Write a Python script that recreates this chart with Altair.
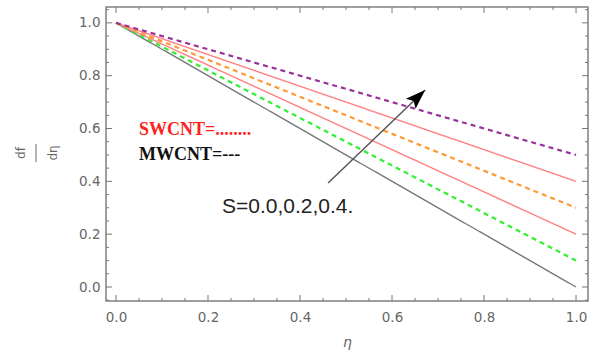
import altair as alt
import pandas as pd

# series: eta positions and df/deta values
eta = [0.0, 0.5, 1.0]
series_names = ["gray", "green", "red1", "orange", "red2", "purple"]
series_vals = {
    "gray":   [1.0, 0.50, 0.0],
    "green":  [1.0, 0.55, 0.1],
    "red1":   [1.0, 0.60, 0.2],
    "orange": [1.0, 0.65, 0.3],
    "red2":   [1.0, 0.70, 0.4],
    "purple": [1.0, 0.75, 0.5],
}
series_colors = ["#777777", "#33ee33", "#ff8080", "#ff9933", "#ff8080", "#993399"]
series_dash = ["solid", "dash", "solid", "dash", "solid", "dash"]

x_major = [0.0, 0.2, 0.4, 0.6, 0.8, 1.0]
x_minor = [0.05, 0.1, 0.15, 0.25, 0.3, 0.35, 0.45, 0.5, 0.55, 0.65, 0.7, 0.75, 0.85, 0.9, 0.95]
y_major = [0.0, 0.2, 0.4, 0.6, 0.8, 1.0]
y_minor = [-0.05, 0.05, 0.1, 0.15, 0.25, 0.3, 0.35, 0.45, 0.5, 0.55, 0.65, 0.7, 0.75, 0.85, 0.9, 0.95, 1.05]

arrow_x = [0.461, 0.672]
arrow_y = [0.394, 0.746]

rows = []
for n, c, d in zip(series_names, series_colors, series_dash):
    for e, v in zip(eta, series_vals[n]):
        rows.append({"eta": e, "val": v, "series": n, "dash": d})
df = pd.DataFrame(rows)

W, H = 482, 294
xs = alt.Scale(domain=[-0.0217, 1.026], nice=False, zero=False)
ys = alt.Scale(domain=[-0.053, 1.06], nice=False, zero=False)
GRAY = "#666666"

lines = alt.Chart(df).mark_line(clip=True).encode(
    x=alt.X("eta:Q", scale=xs, axis=alt.Axis(values=x_major, format=".1f", ticks=False, domain=False,
                                            grid=False, labelFont="DejaVu Sans", labelFontSize=13.5,
                                            labelColor=GRAY, labelPadding=9, title="η",
                                            titleFontStyle="italic", titleFont="DejaVu Sans",
                                            titleFontSize=14, titleFontWeight="normal",
                                            titleColor=GRAY, titlePadding=12)),
    y=alt.Y("val:Q", scale=ys, axis=alt.Axis(values=y_major, format=".1f", ticks=False, domain=False,
                                            grid=False, labelFont="DejaVu Sans", labelFontSize=13.5,
                                            labelColor=GRAY, labelPadding=6, title=None)),
    color=alt.Color("series:N", scale=alt.Scale(domain=series_names, range=series_colors), legend=None),
    strokeDash=alt.StrokeDash("dash:N", scale=alt.Scale(domain=["solid", "dash"], range=[[1, 0], [5, 4]]),
                              legend=None),
    strokeWidth=alt.StrokeWidth("dash:N", scale=alt.Scale(domain=["solid", "dash"], range=[1.4, 2.2]),
                                legend=None),
    detail="series:N",
)

def ticks_x(vals, length):
    d = pd.DataFrame({"t": vals})
    bottom = alt.Chart(d).mark_rule(color="#777", strokeWidth=1).encode(
        x=alt.X("t:Q", scale=xs), y=alt.value(H), y2=alt.value(H - length))
    top = alt.Chart(d).mark_rule(color="#777", strokeWidth=1).encode(
        x=alt.X("t:Q", scale=xs), y=alt.value(0), y2=alt.value(length))
    return bottom + top

def ticks_y(vals, length):
    d = pd.DataFrame({"t": vals})
    left = alt.Chart(d).mark_rule(color="#777", strokeWidth=1).encode(
        y=alt.Y("t:Q", scale=ys), x=alt.value(0), x2=alt.value(length))
    right = alt.Chart(d).mark_rule(color="#777", strokeWidth=1).encode(
        y=alt.Y("t:Q", scale=ys), x=alt.value(W), x2=alt.value(W - length))
    return left + right

adf = pd.DataFrame({"x": [arrow_x[0]], "y": [arrow_y[0]], "x2": [arrow_x[1]], "y2": [arrow_y[1]]})
arrow_line = alt.Chart(adf).mark_rule(color="#555555", strokeWidth=1.5).encode(
    x=alt.X("x:Q", scale=xs), y=alt.Y("y:Q", scale=ys), x2="x2:Q", y2="y2:Q")
hdf = pd.DataFrame({"x": [arrow_x[1]], "y": [arrow_y[1]]})
arrow_head = alt.Chart(hdf).mark_point(
    shape="M0,0L0.7,2L0,1.6L-0.7,2Z", size=400, filled=True, color="#000000", opacity=1,
    angle=46, strokeWidth=0).encode(x=alt.X("x:Q", scale=xs), y=alt.Y("y:Q", scale=ys))

labels_df = pd.DataFrame({
    "x": [0.05, 0.05, 0.2304],
    "y": [0.576, 0.481, 0.280],
    "text": ["SWCNT=........", "MWCNT=---", "S=0.0,0.2,0.4."],
})
t1 = alt.Chart(labels_df.iloc[[0]]).mark_text(
    align="left", baseline="alphabetic", font="Liberation Serif", fontWeight="bold", fontSize=18,
    color="#ff2020").encode(x=alt.X("x:Q", scale=xs), y=alt.Y("y:Q", scale=ys), text="text:N")
t2 = alt.Chart(labels_df.iloc[[1]]).mark_text(
    align="left", baseline="alphabetic", font="Liberation Serif", fontWeight="bold", fontSize=18,
    color="#111111").encode(x=alt.X("x:Q", scale=xs), y=alt.Y("y:Q", scale=ys), text="text:N")
t3 = alt.Chart(labels_df.iloc[[2]]).mark_text(
    align="left", baseline="alphabetic", font="Liberation Sans", fontSize=21,
    color="#222222").encode(x=alt.X("x:Q", scale=xs), y=alt.Y("y:Q", scale=ys), text="text:N")

ytitle_df = pd.DataFrame({"t": ["df", "dη"], "px": [-85, -53]})
ytitle = alt.Chart(ytitle_df).mark_text(
    angle=270, align="center", baseline="middle", font="DejaVu Sans", fontSize=12, color=GRAY
).encode(x=alt.X("px:Q", scale=None), y=alt.value(146), text="t:N")
frac = alt.Chart(pd.DataFrame({"a": [0]})).mark_rule(color=GRAY, strokeWidth=1).encode(
    x=alt.value(-70), y=alt.value(137), y2=alt.value(155))

chart = alt.layer(
    lines,
    ticks_x(x_major, 6), ticks_x(x_minor, 3),
    ticks_y(y_major, 6), ticks_y(y_minor, 3),
    arrow_line, arrow_head, t1, t2, t3, ytitle, frac,
).properties(
    width=W, height=H,
    autosize=alt.AutoSizeParams(type="none"),
    padding={"left": 106, "top": 7, "right": 9, "bottom": 58},
    background="white",
).configure_view(stroke="#808080", strokeWidth=1.5)

chart.save("out.html", embed_options={"renderer": "svg", "actions": False})
